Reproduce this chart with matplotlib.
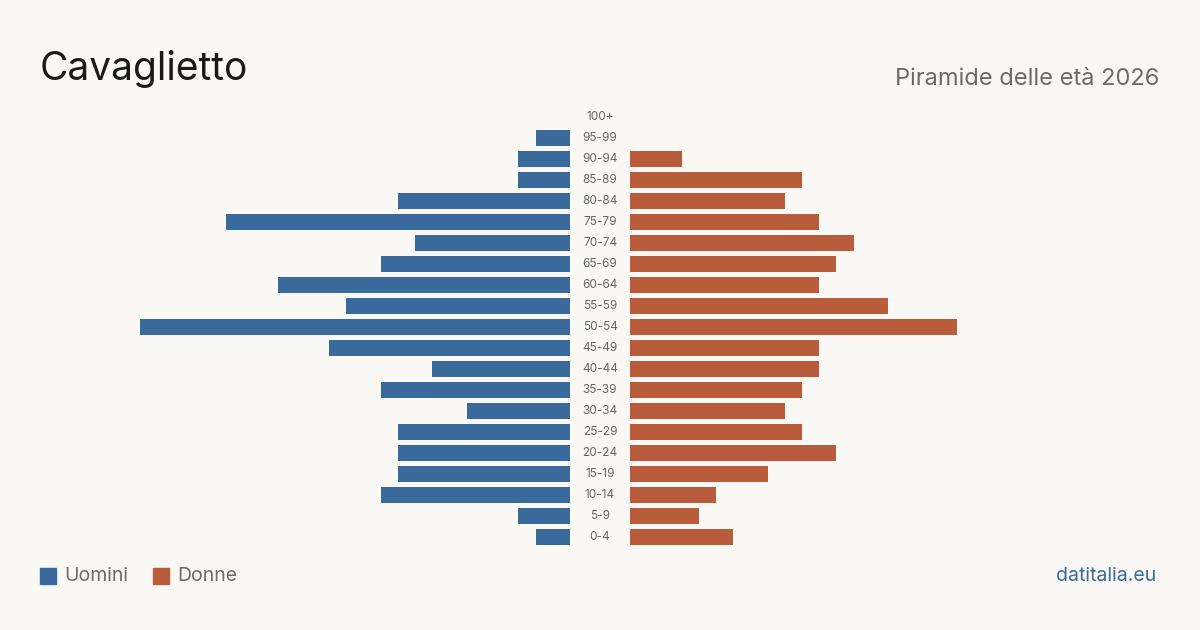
import matplotlib
matplotlib.use("Agg")
import matplotlib.pyplot as plt
from matplotlib.patches import Rectangle

age_groups = ["0-4", "5-9", "10-14", "15-19", "20-24", "25-29", "30-34", "35-39",
              "40-44", "45-49", "50-54", "55-59", "60-64", "65-69", "70-74", "75-79",
              "80-84", "85-89", "90-94", "95-99", "100+"]
men = [2, 3, 11, 10, 10, 10, 6, 11, 8, 14, 25, 13, 17, 11, 9, 20, 10, 3, 3, 2, 0]
women = [6, 4, 5, 8, 12, 10, 9, 10, 11, 11, 19, 15, 11, 12, 13, 11, 9, 10, 3, 0, 0]

BG = "#f9f8f4"
BLUE = "#3a6a9c"
RED = "#b85c3c"
W, H = 1200, 630

plt.rcParams['font.family'] = ['Inter', 'DejaVu Sans']
fig = plt.figure(figsize=(12, 6.3), dpi=100, facecolor=BG)

def fx(px):
    return px / W

def fy(py):
    return 1 - py / H

xmax = 25
bottom = fy(547.5)
height = 441 / H
axL = fig.add_axes([fx(140), bottom, fx(430), height])
axR = fig.add_axes([fx(630), bottom, fx(430), height])
ypos = list(range(len(age_groups)))
axL.barh(ypos, men, height=0.8, color=BLUE)
axR.barh(ypos, women, height=0.8, color=RED)
axL.set_xlim(xmax, 0)
axR.set_xlim(0, xmax)
for ax in (axL, axR):
    ax.set_ylim(-0.5, len(age_groups) - 0.5)
    ax.axis("off")
    ax.set_facecolor("none")

for i, lab in enumerate(age_groups):
    y = 537 - i * 21
    fig.text(fx(600), fy(y), lab, ha="center", va="center", fontsize=8.5, color="#666666")

fig.text(fx(40), fy(80), "Cavaglietto", ha="left", va="baseline", fontsize=28, color="#1a1a1a")
fig.text(fx(1159), fy(85), "Piramide delle età 2026", ha="right", va="baseline", fontsize=17, color="#6b6b6b")

fig.patches.append(Rectangle((fx(40), fy(584)), fx(16), 16 / H, transform=fig.transFigure, color=BLUE))
fig.text(fx(64), fy(576), "Uomini", ha="left", va="center", fontsize=14, color="#6b6b6b")
fig.patches.append(Rectangle((fx(153), fy(584)), fx(16), 16 / H, transform=fig.transFigure, color=RED))
fig.text(fx(177), fy(576), "Donne", ha="left", va="center", fontsize=14, color="#6b6b6b")

fig.text(fx(1156), fy(576), "datitalia.eu", ha="right", va="center", fontsize=14, color=BLUE)

fig.savefig("out.png", dpi=100, facecolor=BG)
